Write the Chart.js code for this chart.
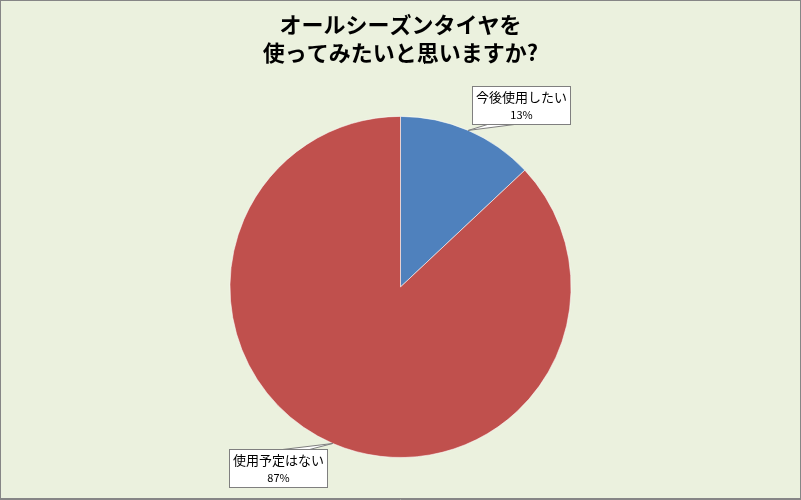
<!DOCTYPE html>
<html>
<head>
<meta charset="utf-8">
<script src="https://cdn.jsdelivr.net/npm/chart.js@4.4.0/dist/chart.umd.min.js"></script>
<style>
html,body{margin:0;padding:0;background:#EBF1DE;}
#wrap{width:801px;height:500px;position:relative;}
</style>
</head>
<body>
<div id="wrap"><canvas id="c" width="801" height="500"></canvas></div>
<script>
const categories = ['今後使用したい', '使用予定はない'];
const values = [13, 87];
const colors = ['#4F81BD', '#C0504D'];
const titleLines = ['オールシーズンタイヤを', '使ってみたいと思いますか?'];

const bgPlugin = {
  id: 'bg',
  beforeDraw(chart) {
    const ctx = chart.ctx;
    ctx.save();
    ctx.fillStyle = '#EBF1DE';
    ctx.fillRect(0, 0, chart.width, chart.height);
    ctx.strokeStyle = '#868686';
    ctx.lineWidth = 1;
    ctx.strokeRect(0.5, 0.5, chart.width - 1, chart.height - 2);
    ctx.beginPath();
    ctx.moveTo(0, chart.height - 0.5);
    ctx.lineTo(chart.width, chart.height - 0.5);
    ctx.stroke();
    ctx.restore();
  }
};

const calloutPlugin = {
  id: 'callouts',
  afterDatasetsDraw(chart) {
    const ctx = chart.ctx;
    const meta = chart.getDatasetMeta(0);
    const total = values.reduce((a, b) => a + b, 0);
    ctx.save();
    meta.data.forEach((arc, i) => {
      const p = arc.getProps(['x', 'y', 'startAngle', 'endAngle', 'outerRadius'], true);
      const mid = (p.startAngle + p.endAngle) / 2;
      const ax = p.x + Math.cos(mid) * p.outerRadius;
      const ay = p.y + Math.sin(mid) * p.outerRadius;
      const right = Math.cos(mid) >= 0;
      const up = Math.sin(mid) < 0;
      const w = 98, h = 38;
      const cx = ax + (right ? 53 : -54.5);
      const cy = ay + (up ? -25 : 25);
      const bx = Math.round(cx - w / 2) + 0.5;
      const by = Math.round(cy - h / 2) + 0.5;
      // wedge
      const edgeY = up ? by + h : by;
      const b1 = right ? bx + 15 : bx + w - 45;
      const b2 = right ? bx + 42 : bx + w - 18;
      ctx.beginPath();
      ctx.moveTo(ax, ay);
      ctx.lineTo(b1, edgeY);
      ctx.lineTo(b2, edgeY);
      ctx.closePath();
      ctx.fillStyle = '#FFFFFF';
      ctx.fill();
      ctx.strokeStyle = '#7F7F7F';
      ctx.lineWidth = 1;
      ctx.stroke();
      // box
      ctx.fillStyle = '#FFFFFF';
      ctx.fillRect(bx, by, w, h);
      ctx.strokeRect(bx, by, w, h);
      // text
      ctx.fillStyle = '#000000';
      ctx.textAlign = 'center';
      ctx.textBaseline = 'middle';
      ctx.font = '13px "Noto Sans CJK JP"';
      ctx.fillText(categories[i], bx + w / 2, by + 11);
      ctx.font = '11px "Noto Sans CJK JP"';
      const pct = Math.round(values[i] / total * 100) + '%';
      ctx.fillText(pct, bx + w / 2, by + 28);
    });
    ctx.restore();
  }
};

new Chart(document.getElementById('c'), {
  type: 'pie',
  data: {
    labels: categories,
    datasets: [{
      data: values,
      backgroundColor: colors,
      borderColor: 'rgba(255,255,255,0.55)',
      borderWidth: 1
    }]
  },
  options: {
    responsive: false,
    animation: false,
    devicePixelRatio: 1,
    layout: { padding: { top: 0, bottom: 42, left: 229, right: 229 } },
    plugins: {
      legend: { display: false },
      tooltip: { enabled: false },
      title: {
        display: true,
        text: titleLines,
        color: '#000000',
        font: { family: '"Noto Sans CJK JP"', size: 22, weight: 'bold', lineHeight: 1.27 },
        padding: { top: 11, bottom: 49 }
      }
    }
  },
  plugins: [bgPlugin, calloutPlugin]
});
</script>
</body>
</html>
